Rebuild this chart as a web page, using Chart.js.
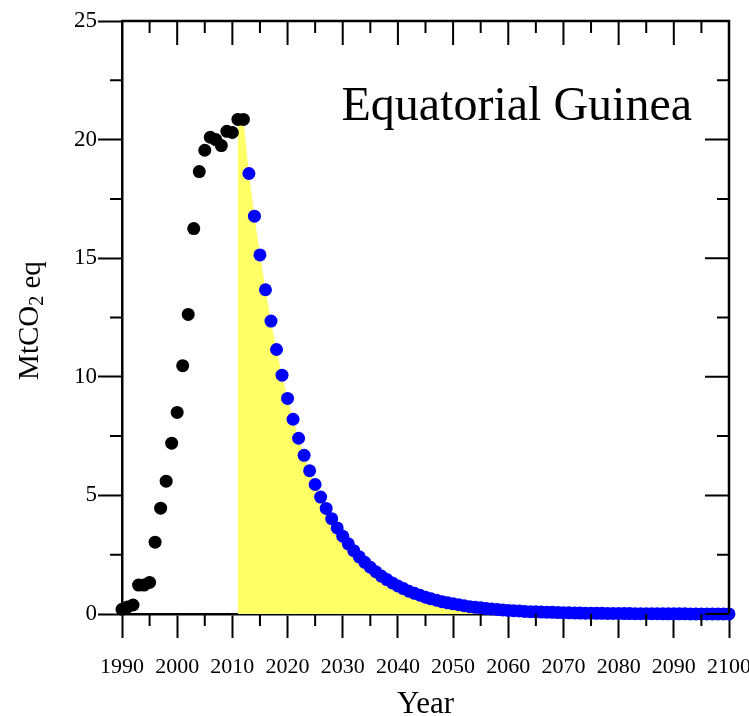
<!DOCTYPE html>
<html>
<head>
<meta charset="utf-8">
<script src="https://cdn.jsdelivr.net/npm/chart.js@4.4.1/dist/chart.umd.min.js"></script>
<style>
  html, body { margin: 0; padding: 0; background: #fff; }
</style>
</head>
<body>
<canvas id="chart" width="749" height="716"></canvas>
<script>
const SERIF = "'Liberation Serif', 'Times New Roman', serif";

// historical emissions, 1990-2012 (MtCO2 eq)
const histStart = 1990;
const histValues = [0.2, 0.3, 0.38, 1.22, 1.22, 1.33, 3.03, 4.46, 5.6, 7.2, 8.5,
  10.47, 12.63, 16.25, 18.65, 19.55, 20.1, 20.0, 19.75, 20.35, 20.3, 20.85, 20.85];

// projected decline, 2013-2100
const projStart = 2013;
const projValues = [18.57, 16.77, 15.14, 13.67, 12.35, 11.15, 10.07, 9.09, 8.21, 7.41,
  6.69, 6.04, 5.46, 4.93, 4.45, 4.02, 3.63, 3.28, 2.96, 2.67,
  2.41, 2.18, 1.97, 1.78, 1.6, 1.45, 1.31, 1.18, 1.07, 0.96,
  0.87, 0.79, 0.71, 0.64, 0.58, 0.52, 0.47, 0.43, 0.39, 0.35,
  0.31, 0.28, 0.26, 0.23, 0.21, 0.19, 0.17, 0.15, 0.14, 0.13,
  0.11, 0.1, 0.09, 0.08, 0.075, 0.07, 0.06, 0.055, 0.05, 0.045,
  0.04, 0.036, 0.032, 0.03, 0.027, 0.024, 0.022, 0.02, 0.018, 0.016,
  0.014, 0.013, 0.012, 0.011, 0.01, 0.009, 0.008, 0.007, 0.006, 0.006,
  0.005, 0.005, 0.004, 0.004, 0.003, 0.003, 0.003, 0.002];

// shaded area starts here
const fillStartYears = [2011, 2012];
const fillStartValues = [20.85, 20.85];

const countryName = "Equatorial Guinea";

const histPoints = histValues.map((v, i) => ({ x: histStart + i, y: v }));
const projPoints = projValues.map((v, i) => ({ x: projStart + i, y: v }));
const fillPoints = fillStartYears.map((yr, i) => ({ x: yr, y: fillStartValues[i] })).concat(projPoints);

// box, inward ticks, minor ticks, titles
const framePlugin = {
  id: "frame",
  afterDraw(chart) {
    const ctx = chart.ctx;
    const { left, right, top, bottom } = chart.chartArea;
    const xs = chart.scales.x;
    const ys = chart.scales.y;
    ctx.save();
    ctx.strokeStyle = "#000";
    ctx.lineWidth = 2.5;
    ctx.beginPath();
    ctx.moveTo(left, top);
    ctx.lineTo(right, top);
    ctx.lineTo(right, bottom);
    ctx.stroke();

    ctx.lineWidth = 2;
    ctx.beginPath();
    for (let v = xs.min; v <= xs.max; v += 5) {
      const px = xs.getPixelForValue(v);
      const major = (v - xs.min) % 10 === 0;
      const len = major ? 24 : 12;
      ctx.moveTo(px, top);
      ctx.lineTo(px, top + len);
      if (!major) {
        ctx.moveTo(px, bottom);
        ctx.lineTo(px, bottom + len);
      }
    }
    for (let v = ys.min; v <= ys.max; v += 2.5) {
      const py = ys.getPixelForValue(v);
      const major = v % 5 === 0;
      const len = major ? 24 : 12;
      ctx.moveTo(right, py);
      ctx.lineTo(right - len, py);
      if (!major) {
        ctx.moveTo(left, py);
        ctx.lineTo(left - len, py);
      }
    }
    ctx.stroke();

    // country name
    ctx.fillStyle = "#000";
    ctx.font = "48px " + SERIF;
    ctx.textAlign = "right";
    ctx.textBaseline = "alphabetic";
    ctx.fillText(countryName, 692, 120);

    // y title with subscript
    ctx.translate(30, (top + bottom) / 2 + 3);
    ctx.rotate(-Math.PI / 2);
    ctx.textAlign = "left";
    ctx.textBaseline = "middle";
    const big = "29px " + SERIF, small = "20px " + SERIF;
    ctx.font = big;
    const w1 = ctx.measureText("MtCO").width;
    const w3 = ctx.measureText(" eq").width;
    ctx.font = small;
    const w2 = ctx.measureText("2").width;
    let x0 = -(w1 + w2 + w3) / 2;
    ctx.font = big;
    ctx.fillText("MtCO", x0, 0);
    ctx.font = small;
    ctx.fillText("2", x0 + w1, 8);
    ctx.font = big;
    ctx.fillText(" eq", x0 + w1 + w2, 2);
    ctx.restore();
  }
};

const ctx = document.getElementById("chart").getContext("2d");

new Chart(ctx, {
  type: "scatter",
  data: {
    datasets: [
      {
        type: "line",
        data: fillPoints,
        fill: "origin",
        backgroundColor: "#ffff66",
        borderWidth: 0,
        pointRadius: 0,
        tension: 0,
        order: 3
      },
      {
        data: histPoints,
        backgroundColor: "#000",
        pointRadius: 6.5,
        pointBorderWidth: 0,
        clip: false,
        order: 1
      },
      {
        data: projPoints,
        backgroundColor: "#0000ff",
        pointRadius: 6.5,
        pointBorderWidth: 0,
        clip: false,
        order: 2
      }
    ]
  },
  options: {
    responsive: false,
    animation: false,
    devicePixelRatio: 1,
    layout: { padding: { top: 21, right: 20, left: 0, bottom: 0 } },
    plugins: { legend: { display: false }, tooltip: { enabled: false } },
    scales: {
      x: {
        type: "linear",
        position: "bottom",
        min: 1990,
        max: 2100,
        z: 1,
        ticks: {
          stepSize: 10,
          autoSkip: false,
          maxRotation: 0,
          color: "#000",
          padding: 16,
          font: { family: SERIF, size: 22 },
          callback: (v) => String(v)
        },
        grid: { drawOnChartArea: false, tickLength: 24, tickWidth: 2, tickColor: "#000" },
        border: { color: "#000", width: 2.5 },
        title: {
          display: true,
          text: "Year",
          color: "#000",
          font: { family: SERIF, size: 31, lineHeight: 0.7 },
          padding: { top: 0, bottom: 0 }
        },
        afterFit(s) {
          s.height = 102;
          s.paddingLeft = 0;
          s.paddingRight = 0;
        }
      },
      y: {
        min: 0,
        max: 25,
        z: 1,
        ticks: {
          stepSize: 5,
          color: "#000",
          padding: 1,
          font: { family: SERIF, size: 23 }
        },
        grid: { drawOnChartArea: false, tickLength: 24, tickWidth: 2, tickColor: "#000" },
        border: { color: "#000", width: 2.5 },
        afterFit(s) {
          s.width = 122;
          s.paddingTop = 0;
          s.paddingBottom = 0;
        }
      }
    }
  },
  plugins: [framePlugin]
});
</script>
</body>
</html>
